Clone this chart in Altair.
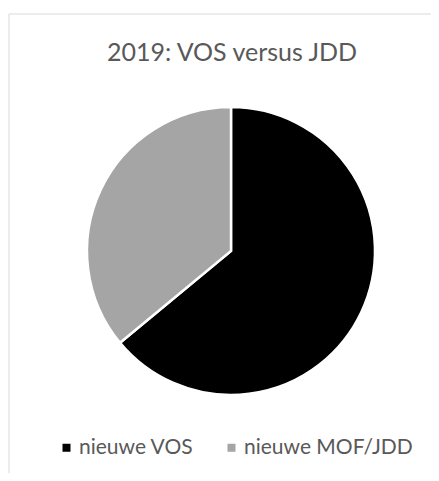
import altair as alt
import pandas as pd

categories = ["nieuwe VOS", "nieuwe MOF/JDD"]
values = [64, 36]
colors = ["#000000", "#a5a5a5"]
title_text = "2019: VOS versus JDD"

df = pd.DataFrame({"cat": categories, "val": values, "ord": [0, 1]})

W, H = 423, 465
FONT = "Lato"

pie = alt.Chart(df).mark_arc(radius=144, stroke="white", strokeWidth=2.5).encode(
    theta=alt.Theta("val:Q", stack=True),
    order=alt.Order("ord:Q"),
    color=alt.Color(
        "cat:N",
        scale=alt.Scale(domain=categories, range=colors),
        legend=alt.Legend(
            title=None,
            orient="none",
            direction="horizontal",
            legendX=48,
            legendY=429,
            symbolType="square",
            symbolSize=64,
            symbolStrokeWidth=0,
            labelFont=FONT,
            labelFontSize=21,
            labelColor="#595959",
            labelOffset=2,
            labelLimit=300,
            columnPadding=27,
        ),
    ),
    x=alt.value(223),
    y=alt.value(243),
)

title = alt.Chart(pd.DataFrame({"t": [title_text]})).mark_text(
    font=FONT, fontSize=25, color="#595959", baseline="middle", align="center"
).encode(text="t:N", x=alt.value(224), y=alt.value(45))

frame_top = alt.Chart(pd.DataFrame({"a": [0]})).mark_rule(color="#d9d9d9", strokeWidth=1).encode(
    x=alt.value(1), x2=alt.value(W), y=alt.value(6)
)
frame_left = alt.Chart(pd.DataFrame({"a": [0]})).mark_rule(color="#d9d9d9", strokeWidth=1).encode(
    x=alt.value(1), y=alt.value(6), y2=alt.value(H)
)

chart = alt.layer(frame_top, frame_left, pie, title).properties(
    width=W, height=H, autosize=alt.AutoSizeParams(type="none"), padding=0
).configure_view(stroke=None)

chart.save("out.html", embed_options={"renderer": "svg", "actions": False})
